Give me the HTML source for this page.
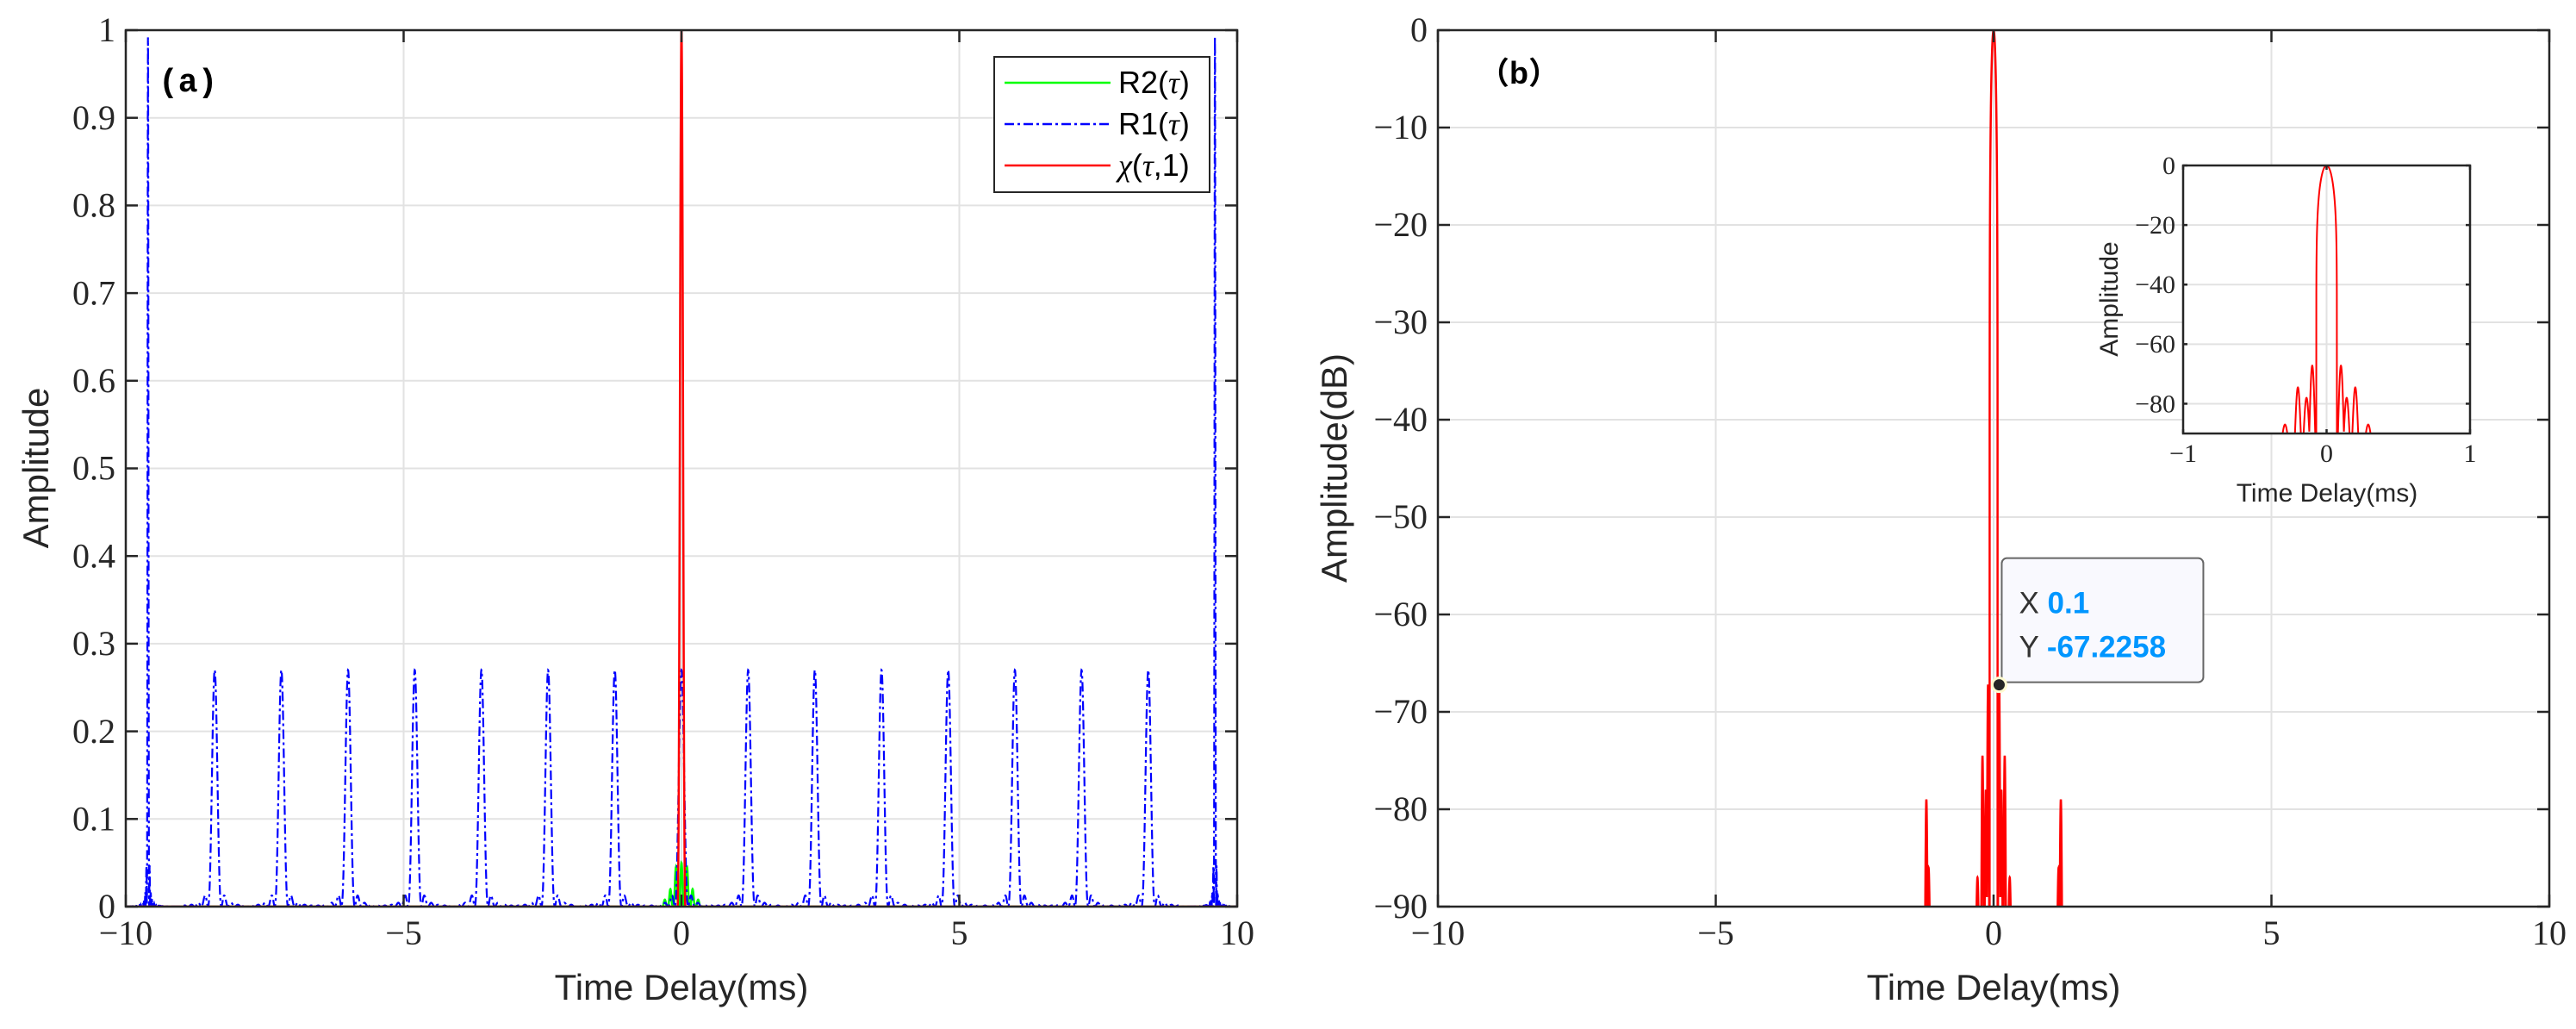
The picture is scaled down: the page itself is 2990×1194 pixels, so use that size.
<!DOCTYPE html>
<html><head><meta charset="utf-8"><style>
html,body{margin:0;padding:0;background:#fff;}
svg{display:block;}
</style></head><body>
<svg id="fig" width="2990" height="1194" viewBox="0 0 2990 1194" xmlns="http://www.w3.org/2000/svg">
<defs>
<clipPath id="clipA"><rect x="146" y="35" width="1290" height="1017"/></clipPath>
<clipPath id="clipB"><rect x="1669" y="35" width="1290" height="1017"/></clipPath>
<clipPath id="clipC"><rect x="2534" y="192" width="333" height="311"/></clipPath>
</defs>
<g id="panelA"></g>
<g id="panelB"></g>
<g id="inset"></g>
</svg>
<script>
// ---- data: panel (a) ----
const r1PeakX = [-9.6,-8.4,-7.2,-6.0,-4.8,-3.6,-2.4,-1.2,0,1.2,2.4,3.6,4.8,6.0,7.2,8.4,9.6];
const r1PeakY = [1.0,0.27,0.27,0.27,0.27,0.27,0.27,0.27,0.27,0.27,0.27,0.27,0.27,0.27,0.27,0.27,1.0];
const r1PeakW = [0.02,0.12,0.12,0.12,0.12,0.12,0.12,0.12,0.12,0.12,0.12,0.12,0.12,0.12,0.12,0.12,0.02];
const r2PeakX = [-0.3,-0.2,-0.1,0,0.1,0.2,0.3];
const r2PeakY = [0.008,0.02,0.045,0.05,0.045,0.02,0.008];
const chiPeakX = [0];
const chiPeakY = [1.0];
const xTicksA = [-10,-5,0,5,10];
const yTicksA = [0,0.1,0.2,0.3,0.4,0.5,0.6,0.7,0.8,0.9,1];
// ---- data: panel (b) ----
const mainLobeDb = 0;
const lobeX = [-1.21,-1.17,-0.29,-0.2,-0.14,-0.1,0.1,0.14,0.2,0.29,1.17,1.21];
const lobeDb = [-79,-86,-87,-74.5,-78,-67.2,-67.2,-78,-74.5,-87,-86,-79];
const xTicksB = [-10,-5,0,5,10];
const yTicksB = [0,-10,-20,-30,-40,-50,-60,-70,-80,-90];
const xTicksC = [-1,0,1];
const yTicksC = [0,-20,-40,-60,-80];
const tipX = 0.1, tipY = -67.2258;

const NS='http://www.w3.org/2000/svg';
function mk(parent,tag,attrs,text){const e=document.createElementNS(NS,tag);for(const k in attrs)e.setAttribute(k,attrs[k]);if(text!==undefined)e.textContent=text;parent.appendChild(e);return e;}
function fmt(v){return (v<0?'\u2212':'')+String(Math.abs(v));}
function sinc(u){return u===0?1:Math.sin(Math.PI*u)/(Math.PI*u);}

function axes(g,box,xd,yd,xt,yt,fs,tickLen,clipId){
  const sx=v=>box.x+(v-xd[0])/(xd[1]-xd[0])*box.w;
  const sy=v=>box.y+box.h-(v-yd[0])/(yd[1]-yd[0])*box.h;
  const grid=mk(g,'g',{});
  
  
  xt.forEach(v=>mk(grid,'line',{x1:sx(v),x2:sx(v),y1:box.y,y2:box.y+box.h,stroke:'#e2e2e2','stroke-width':2}));
  yt.forEach(v=>mk(grid,'line',{x1:box.x,x2:box.x+box.w,y1:sy(v),y2:sy(v),stroke:'#e2e2e2','stroke-width':2}));
  const data=mk(g,'g',{'clip-path':'url(#'+clipId+')'});
  return {sx,sy,data,finish:function(){
    const ax=mk(g,'g',{});
    
    
    mk(ax,'rect',{x:box.x,y:box.y,width:box.w,height:box.h,fill:'none',stroke:'#262626','stroke-width':2.5});
    xt.forEach(v=>{mk(ax,'line',{x1:sx(v),x2:sx(v),y1:box.y+box.h,y2:box.y+box.h-tickLen,stroke:'#262626','stroke-width':2.5});
      mk(ax,'line',{x1:sx(v),x2:sx(v),y1:box.y,y2:box.y+tickLen,stroke:'#262626','stroke-width':2.5});
      const t=mk(ax,'text',{x:sx(v),y:box.y+box.h+fs*1.1,'font-size':fs,'text-anchor':'middle','font-family':'Liberation Serif, serif',fill:'#262626'},fmt(v));
      
      });
    yt.forEach(v=>{mk(ax,'line',{x1:box.x,x2:box.x+tickLen,y1:sy(v),y2:sy(v),stroke:'#262626','stroke-width':2.5});
      mk(ax,'line',{x1:box.x+box.w,x2:box.x+box.w-tickLen,y1:sy(v),y2:sy(v),stroke:'#262626','stroke-width':2.5});
      const t=mk(ax,'text',{x:box.x-fs*0.3,y:sy(v)+fs*0.33,'font-size':fs,'text-anchor':'end','font-family':'Liberation Serif, serif',fill:'#262626'},fmt(v));
      
      });
  }};
}
function linePath(xs,f,sx,sy){let d='';xs.forEach((x,i)=>{d+=(i?'L':'M')+sx(x).toFixed(2)+' '+sy(f(x)).toFixed(2);});return d;}
function grid(a,b,step){const r=[];for(let x=a;x<=b+1e-9;x+=step)r.push(+x.toFixed(5));return r;}

// ---------- Panel A ----------
(function(){
  const g=document.getElementById('panelA');
  const A=axes(g,{x:146,y:35,w:1290,h:1017},[-10,10],[0,1],xTicksA,yTicksA,40,14,'clipA');
  const xs=grid(-10,10,0.003);
  const r1=x=>{let m=0;r1PeakX.forEach((p,i)=>{const d=x-p;if(Math.abs(d)<0.6){m=Math.max(m,r1PeakY[i]*Math.pow(sinc(d/r1PeakW[i]),2));}});return m;};
  const r2=x=>{let m=0;r2PeakX.forEach((p,i)=>{const d=x-p;if(Math.abs(d)<0.2)m=Math.max(m,r2PeakY[i]*Math.pow(sinc(d/0.045),2));});return m;};
  const chi=x=>{let m=0;chiPeakX.forEach((p,i)=>{const d=x-p;if(Math.abs(d)<0.07)m=Math.max(m,chiPeakY[i]*Math.pow(sinc(d/0.07),2));});return m;};
  const pG=mk(A.data,'path',{d:linePath(xs,r2,A.sx,A.sy),fill:'none',stroke:'#00ff00','stroke-width':2.5});
  
  
  const pB=mk(A.data,'path',{d:linePath(xs,r1,A.sx,A.sy),fill:'none',stroke:'#0000ff','stroke-width':2.2,'stroke-dasharray':'11 4 3 4'});
  
  
  const xsR=grid(-10,10,0.002);
  const pR=mk(A.data,'path',{d:linePath(xsR,chi,A.sx,A.sy),fill:'none',stroke:'#ff0000','stroke-width':2.5});
  
  
  A.finish();
  const xl=mk(g,'text',{x:791,y:1160,'font-size':42,'text-anchor':'middle','font-family':'Liberation Sans, sans-serif',fill:'#262626'},'Time Delay(ms)');
  
  
  const yl=mk(g,'text',{x:56,y:543,'font-size':42,'text-anchor':'middle','font-family':'Liberation Sans, sans-serif',fill:'#262626',transform:'rotate(-90 56 543)'},'Amplitude');
  
  
  const pl=mk(g,'text',{x:184,y:106,'font-size':38,'font-weight':'bold','font-family':'Liberation Mono, Noto Sans CJK SC, monospace',fill:'#000'},'(a)');
  
  
  // legend
  const lg=mk(g,'g',{});
  
  
  mk(lg,'rect',{x:1154,y:66,width:250,height:157,fill:'#fff',stroke:'#262626','stroke-width':2});
  const ent=[['#00ff00','','R2(','τ',')'],['#0000ff','11 4 3 4','R1(','τ',')'],['#ff0000','','','χ','(τ,1)']];
  ent.forEach((e,i)=>{const y=96+i*48;
    const le=mk(lg,'g',{});
    
    
    mk(le,'line',{x1:1166,x2:1289,y1:y,y2:y,stroke:e[0],'stroke-width':2.5,'stroke-dasharray':e[1]||'none'});
    const t=mk(le,'text',{x:1298,y:y+12,'font-size':36,'font-family':'Liberation Sans, sans-serif',fill:'#000'});
    if(i<2){mk(t,'tspan',{},e[2]);mk(t,'tspan',{'font-family':'Liberation Serif, serif','font-style':'italic'},e[3]);mk(t,'tspan',{},e[4]);}
    else{mk(t,'tspan',{'font-family':'Liberation Serif, serif','font-style':'italic'},'χ');mk(t,'tspan',{},'(');mk(t,'tspan',{'font-family':'Liberation Serif, serif','font-style':'italic'},'τ');mk(t,'tspan',{},',1)');}
  });
})();

// ---------- Panel B ----------
function dbCurve(x){
  let v=-200;
  const u=x/0.072;
  if(Math.abs(u)<1){const s=Math.abs(sinc(u));v=mainLobeDb+20*Math.log10(Math.max(s,1e-6));}
  lobeX.forEach((p,i)=>{const d=Math.abs(x-p),w=0.022;if(d<w)v=Math.max(v,-92+(lobeDb[i]+92)*Math.cos(Math.PI/2*d/w));});
  return Math.max(v,-95);
}
(function(){
  const g=document.getElementById('panelB');
  const B=axes(g,{x:1669,y:35,w:1290,h:1017},[-10,10],[-90,0],xTicksB,yTicksB,40,14,'clipB');
  const xs=grid(-10,10,0.001);
  const p=mk(B.data,'path',{d:linePath(xs,dbCurve,B.sx,B.sy),fill:'none',stroke:'#ff0000','stroke-width':2.5});
  
  
  B.finish();
  const xl=mk(g,'text',{x:2314,y:1160,'font-size':42,'text-anchor':'middle','font-family':'Liberation Sans, sans-serif',fill:'#262626'},'Time Delay(ms)');
  
  
  const yl=mk(g,'text',{x:1563,y:543,'font-size':42,'text-anchor':'middle','font-family':'Liberation Sans, sans-serif',fill:'#262626',transform:'rotate(-90 1563 543)'},'Amplitude(dB)');
  
  
  const pl=mk(g,'text',{x:1716,y:97,'font-size':36,'font-weight':'bold','font-family':'Liberation Sans, Noto Sans CJK SC, sans-serif',fill:'#000'},'（b）');
  
  
  // data tip
  const tg=mk(g,'g',{});
  
  
  const dx=B.sx(tipX),dy=B.sy(tipY);
  mk(tg,'rect',{x:dx+3,y:dy-147,width:234,height:144,rx:6,fill:'#f9f9fe',stroke:'#666','stroke-width':2});
  const t1=mk(tg,'text',{x:dx+23,y:dy-83,'font-size':35,'font-family':'Liberation Sans, sans-serif',fill:'#333'});
  mk(t1,'tspan',{},'X ');mk(t1,'tspan',{fill:'#0096ff','font-weight':'bold'},String(tipX));
  const t2=mk(tg,'text',{x:dx+23,y:dy-32,'font-size':35,'font-family':'Liberation Sans, sans-serif',fill:'#333'});
  mk(t2,'tspan',{},'Y ');mk(t2,'tspan',{fill:'#0096ff','font-weight':'bold'},String(tipY));
  const dot=mk(tg,'circle',{cx:dx,cy:dy,r:8,fill:'#262626',stroke:'#fffbd0','stroke-width':3});
  
  
})();

// ---------- Inset ----------
(function(){
  const g=document.getElementById('inset');
  mk(g,'rect',{x:2534,y:192,width:333,height:311,fill:'#fff'});
  const C=axes(g,{x:2534,y:192,w:333,h:311},[-1,1],[-90,0],xTicksC,yTicksC,30,5,'clipC');
  const xs=grid(-1,1,0.0005);
  const p=mk(C.data,'path',{d:linePath(xs,dbCurve,C.sx,C.sy),fill:'none',stroke:'#ff0000','stroke-width':2});
  
  
  C.finish();
  const xl=mk(g,'text',{x:2701,y:582,'font-size':30,'text-anchor':'middle','font-family':'Liberation Sans, sans-serif',fill:'#262626'},'Time Delay(ms)');
  
  
  const yl=mk(g,'text',{x:2458,y:347,'font-size':30,'text-anchor':'middle','font-family':'Liberation Sans, sans-serif',fill:'#262626',transform:'rotate(-90 2458 347)'},'Amplitude');
  
  
})();
</script>
</body></html>
